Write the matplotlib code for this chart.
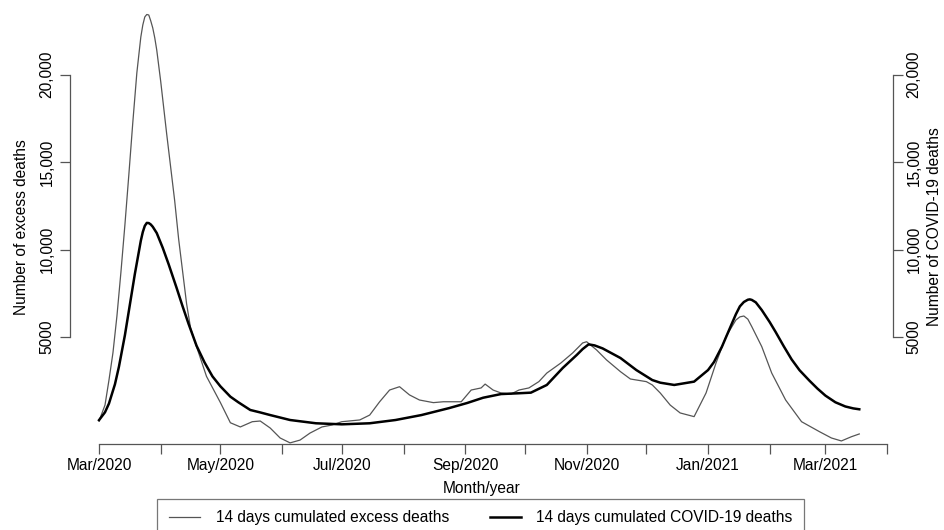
import matplotlib
matplotlib.use('Agg')
import matplotlib.pyplot as plt
import matplotlib.dates as mdates
import pandas as pd

plt.rcParams['font.family'] = ['Liberation Sans', 'DejaVu Sans']

# 14 days cumulated excess deaths (thin grey line)
excess_dates = [
    '2020-03-01', '2020-03-04', '2020-03-06', '2020-03-08', '2020-03-10',
    '2020-03-12', '2020-03-14', '2020-03-16', '2020-03-18', '2020-03-20',
    '2020-03-21', '2020-03-22', '2020-03-23', '2020-03-24', '2020-03-25',
    '2020-03-26', '2020-03-27', '2020-03-28', '2020-03-29', '2020-03-30',
    '2020-03-31', '2020-04-01', '2020-04-04', '2020-04-08', '2020-04-10',
    '2020-04-14', '2020-04-16', '2020-04-19', '2020-04-24', '2020-05-01',
    '2020-05-06', '2020-05-11', '2020-05-17', '2020-05-21', '2020-05-26',
    '2020-05-31', '2020-06-05', '2020-06-10', '2020-06-15', '2020-06-21',
    '2020-06-26', '2020-07-01', '2020-07-10', '2020-07-15', '2020-07-20',
    '2020-07-25', '2020-07-30', '2020-08-04', '2020-08-09', '2020-08-16',
    '2020-08-21', '2020-08-30', '2020-09-04', '2020-09-09', '2020-09-11',
    '2020-09-15', '2020-09-19', '2020-09-24', '2020-09-28', '2020-10-03',
    '2020-10-08', '2020-10-12', '2020-10-19', '2020-10-25', '2020-10-30',
    '2020-11-01', '2020-11-06', '2020-11-11', '2020-11-18', '2020-11-23',
    '2020-12-01', '2020-12-04', '2020-12-08', '2020-12-13', '2020-12-18',
    '2020-12-25', '2020-12-31', '2021-01-05', '2021-01-10', '2021-01-15',
    '2021-01-17', '2021-01-19', '2021-01-21', '2021-01-23', '2021-01-28',
    '2021-02-02', '2021-02-09', '2021-02-17', '2021-02-26', '2021-03-04',
    '2021-03-09', '2021-03-14', '2021-03-18',
]
excess_values = [
    200, 1110, 2540, 4100, 6200,
    8700, 11400, 14300, 17300, 20090,
    21120, 22140, 22830, 23290, 23430,
    23400, 23060, 22660, 22100, 21400,
    20500, 19600, 16600, 12800, 10600,
    6900, 5510, 4450, 2750, 1250,
    100, -140, 160, 200, -200,
    -770, -1050, -890, -490, -140,
    -30, 160, 260, 540, 1300,
    1970, 2160, 1690, 1400, 1250,
    1300, 1300, 1970, 2090, 2310,
    1970, 1800, 1740, 1970, 2090,
    2450, 2940, 3510, 4090, 4660,
    4730, 4260, 3690, 3020, 2600,
    2450, 2260, 1800, 1110, 660,
    450, 1800, 3510, 5020, 5970,
    6150, 6200, 6020, 5590, 4450,
    2940, 1400, 160, -410, -770,
    -940, -700, -540,
]

# 14 days cumulated COVID-19 deaths (thick black line)
covid_dates = [
    '2020-03-01', '2020-03-04', '2020-03-06', '2020-03-09', '2020-03-11',
    '2020-03-14', '2020-03-16', '2020-03-19', '2020-03-22', '2020-03-23',
    '2020-03-24', '2020-03-25', '2020-03-26', '2020-03-27', '2020-03-28',
    '2020-03-30', '2020-04-02', '2020-04-05', '2020-04-09', '2020-04-12',
    '2020-04-15', '2020-04-19', '2020-04-23', '2020-04-27', '2020-05-01',
    '2020-05-06', '2020-05-10', '2020-05-16', '2020-05-21', '2020-05-26',
    '2020-06-05', '2020-06-18', '2020-07-01', '2020-07-15', '2020-07-28',
    '2020-08-10', '2020-08-24', '2020-09-02', '2020-09-10', '2020-09-19',
    '2020-09-27', '2020-10-04', '2020-10-12', '2020-10-20', '2020-10-27',
    '2020-10-30', '2020-11-02', '2020-11-05', '2020-11-09', '2020-11-18',
    '2020-11-26', '2020-12-04', '2020-12-08', '2020-12-15', '2020-12-25',
    '2021-01-01', '2021-01-04', '2021-01-08', '2021-01-12', '2021-01-15',
    '2021-01-17', '2021-01-19', '2021-01-21', '2021-01-22', '2021-01-23',
    '2021-01-25', '2021-01-28', '2021-02-01', '2021-02-04', '2021-02-08',
    '2021-02-12', '2021-02-16', '2021-02-21', '2021-02-25', '2021-03-01',
    '2021-03-06', '2021-03-11', '2021-03-15', '2021-03-18',
]
covid_values = [
    250, 700, 1200, 2300, 3300,
    5100, 6500, 8600, 10500, 11000,
    11350, 11520, 11510, 11430, 11300,
    10940, 10100, 9150, 7800, 6750,
    5750, 4500, 3550, 2750, 2180,
    1590, 1270, 830, 690, 540,
    257, 70, 10, 70, 257,
    540, 940, 1230, 1530, 1740,
    1780, 1820, 2260, 3230, 3970,
    4310, 4580, 4520, 4350, 3800,
    3110, 2540, 2390, 2260, 2450,
    3110, 3570, 4450, 5510, 6300,
    6750, 7000, 7130, 7150, 7120,
    6980, 6540, 5850, 5280, 4480,
    3720, 3100, 2500, 2050, 1650,
    1270, 1030, 920, 870,
]

y_ticks = [5000, 10000, 15000, 20000]
y_ticklabels = ['5000', '10,000', '15,000', '20,000']
month_ticks = pd.date_range('2020-03-01', '2021-04-01', freq='MS')
month_labels = ['Mar/2020', '', 'May/2020', '', 'Jul/2020', '', 'Sep/2020', '',
                'Nov/2020', '', 'Jan/2021', '', 'Mar/2021', '']

AXIS_COLOR = '#555555'
FS = 11.2

fig = plt.figure(figsize=(9.45, 5.3), dpi=100)
ax = fig.add_axes([70 / 945, 86 / 530, 822.7 / 945, 434 / 530])

ax.plot(pd.to_datetime(excess_dates), excess_values, color='#555555', lw=0.9,
        label='14 days cumulated excess deaths', zorder=2)
ax.plot(pd.to_datetime(covid_dates), covid_values, color='black', lw=1.8,
        label='14 days cumulated COVID-19 deaths', zorder=3)

ax.set_xlim(pd.Timestamp('2020-02-15 10:00'), pd.Timestamp('2021-04-03 19:00'))
ax.set_ylim(-1114, 23686)

# R-style axes: spines only across the tick range
for side in ['top', 'right']:
    ax.spines[side].set_visible(False)
ax.spines['left'].set_bounds(5000, 20000)
ax.spines['bottom'].set_bounds(mdates.date2num(month_ticks[0]),
                               mdates.date2num(month_ticks[-1]))
for side in ['left', 'bottom']:
    ax.spines[side].set_color(AXIS_COLOR)
    ax.spines[side].set_linewidth(0.9)

ax.set_xticks(month_ticks)
ax.set_xticklabels(month_labels, fontsize=FS)
ax.set_yticks(y_ticks)
ax.set_yticklabels(y_ticklabels, fontsize=FS, rotation=90, va='center')
ax.tick_params(axis='both', length=7, width=0.9, color=AXIS_COLOR, pad=4)
ax.tick_params(axis='x', pad=3)
ax.set_xlabel('Month/year', fontsize=FS, labelpad=6)
ax.set_ylabel('Number of excess deaths', fontsize=FS, labelpad=8)

ax2 = ax.twinx()
ax2.set_ylim(ax.get_ylim())
for side in ['top', 'left', 'bottom']:
    ax2.spines[side].set_visible(False)
ax2.spines['right'].set_bounds(5000, 20000)
ax2.spines['right'].set_color(AXIS_COLOR)
ax2.spines['right'].set_linewidth(0.9)
ax2.set_yticks(y_ticks)
ax2.set_yticklabels(y_ticklabels, fontsize=FS, rotation=90, va='center')
ax2.tick_params(axis='y', length=7, width=0.9, color=AXIS_COLOR, pad=3)
ax2.set_ylabel('Number of COVID-19 deaths', fontsize=FS, labelpad=4)

handles, labels = ax.get_legend_handles_labels()
leg = fig.legend(handles, labels, loc='upper left',
                 bbox_to_anchor=(157.5 / 945, 1 - 498.5 / 530),
                 ncol=2, fontsize=FS, frameon=True, fancybox=False,
                 borderpad=0.75, handlelength=2.0, handletextpad=1.0,
                 columnspacing=2.6, borderaxespad=0)
leg.get_frame().set_edgecolor(AXIS_COLOR)
leg.get_frame().set_linewidth(0.9)

fig.savefig('out.png', dpi=100)
